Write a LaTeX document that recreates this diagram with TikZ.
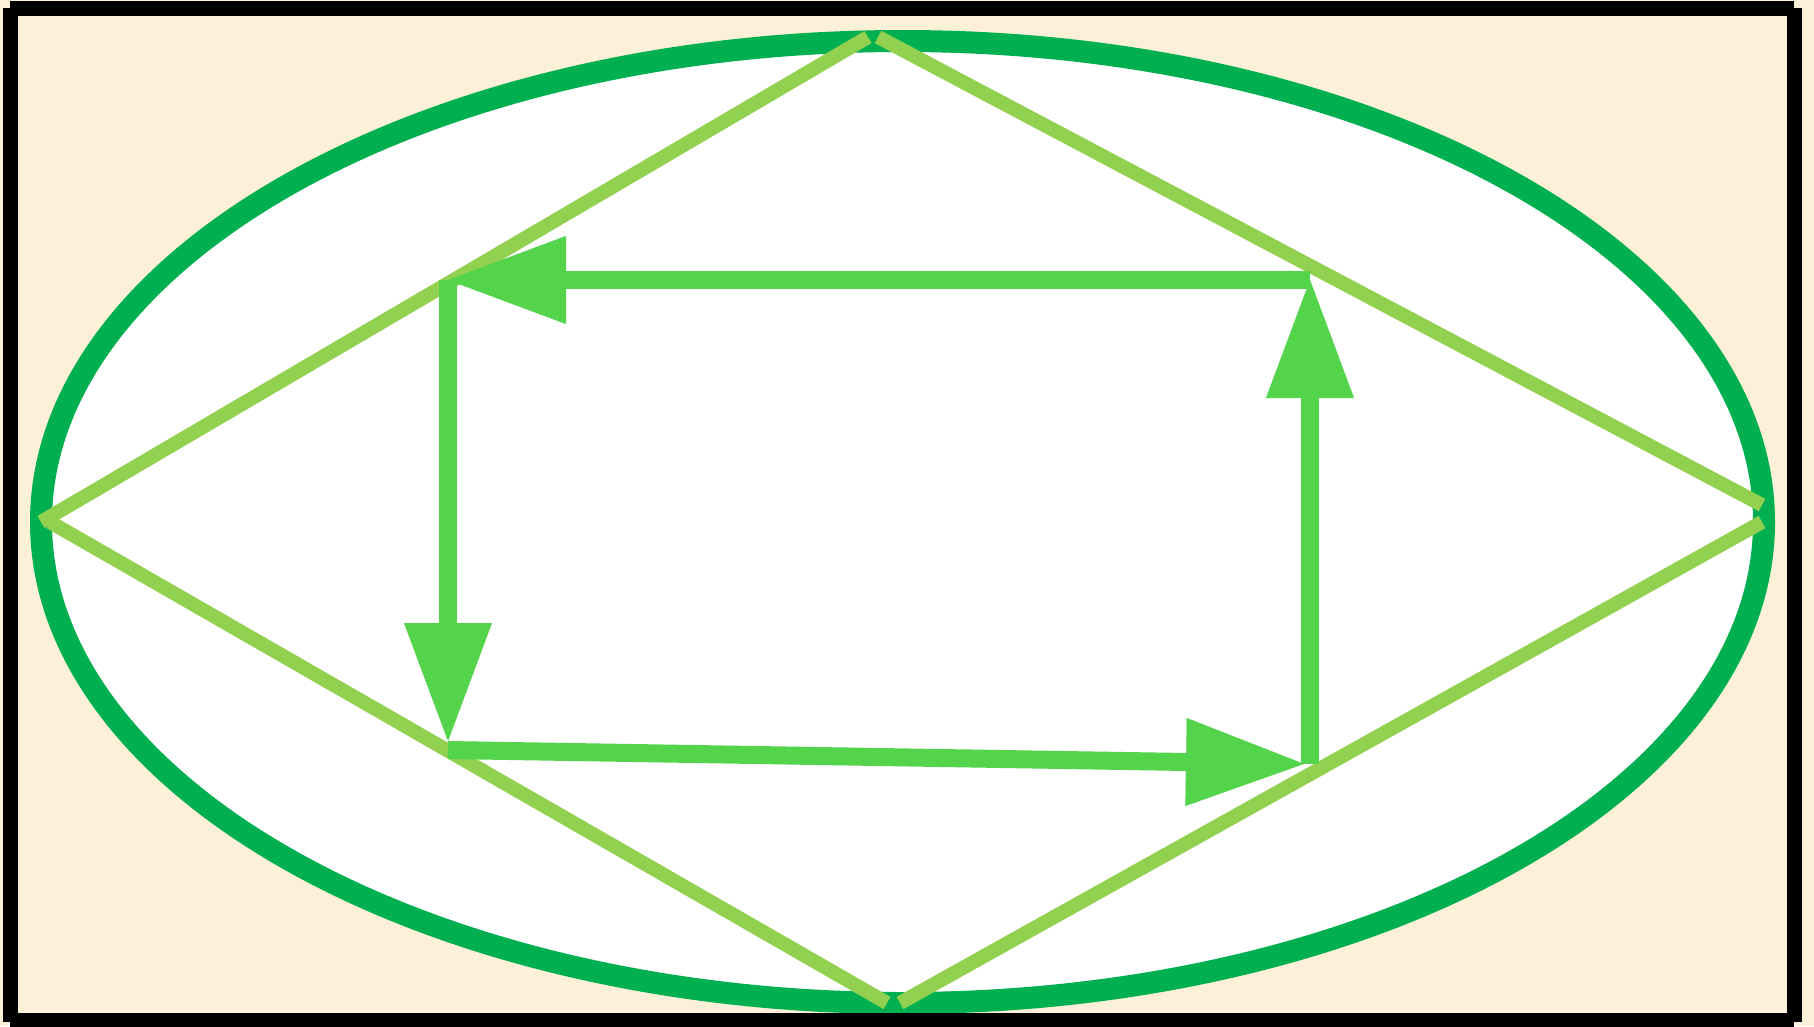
\documentclass[tikz,border=0pt]{standalone}
\usetikzlibrary{arrows.meta}
\definecolor{cream}{RGB}{252,240,216}
\definecolor{ellgreen}{RGB}{0,176,80}
\definecolor{lightgreen}{RGB}{146,208,80}
\definecolor{arrowgreen}{RGB}{84,212,74}
\tikzset{
  frameline/.style={draw=black, line width=15pt},
  ellline/.style={draw=ellgreen, line width=22pt, fill=white},
  diagline/.style={draw=lightgreen, line width=14pt},
  flow/.style={draw=arrowgreen, line width=18pt,
    -{Triangle[length=118pt,width=88pt,line width=0.1pt]}}
}
\begin{document}
\begin{tikzpicture}[x=1pt,y=-1pt]
  \useasboundingbox (0,0) rectangle (1814,1026);
  \fill[cream] (0,0) rectangle (1814,1026);

  % ellipse
  \coordinate (E) at (902.5,522);
  \path[ellline] (E) ellipse [x radius=861.5, y radius=481];

  % diamond vertices
  \coordinate (L1) at (41,522);
  \coordinate (T1) at (868,37);
  \coordinate (T2) at (878,37);
  \coordinate (R1) at (1762,505);
  \coordinate (L2) at (50,522);
  \coordinate (B1) at (887,1003);
  \coordinate (B2) at (900,1003);
  \coordinate (R2) at (1762,522);
  \draw[diagline] (L1) -- (T1);
  \draw[diagline] (T2) -- (R1);
  \draw[diagline] (L2) -- (B1);
  \draw[diagline] (B2) -- (R2);

  % arrow cycle
  \coordinate (A) at (448,280);
  \coordinate (B) at (1310,280);
  \coordinate (C) at (1310,764);
  \coordinate (D) at (448,750);
  \draw[flow] (B) -- (A);
  \draw[flow, shorten >=9pt] (A) -- (D);
  \draw[flow, shorten >=6pt] (D) -- (C);
  \draw[flow] (C) -- (B);

  % frame
  \coordinate (F1) at (10,8.5);
  \coordinate (F2) at (1794,8.5);
  \coordinate (F3) at (1794,1020);
  \coordinate (F4) at (10,1020);
  \draw[frameline] (F1) -- (F2);
  \draw[frameline] ([yshift=0.5pt]F2) -- ([yshift=-2pt]F3);
  \draw[frameline] (F3) -- (F4);
  \draw[frameline] ([yshift=-2pt]F4) -- ([yshift=0.5pt]F1);
\end{tikzpicture}
\end{document}
